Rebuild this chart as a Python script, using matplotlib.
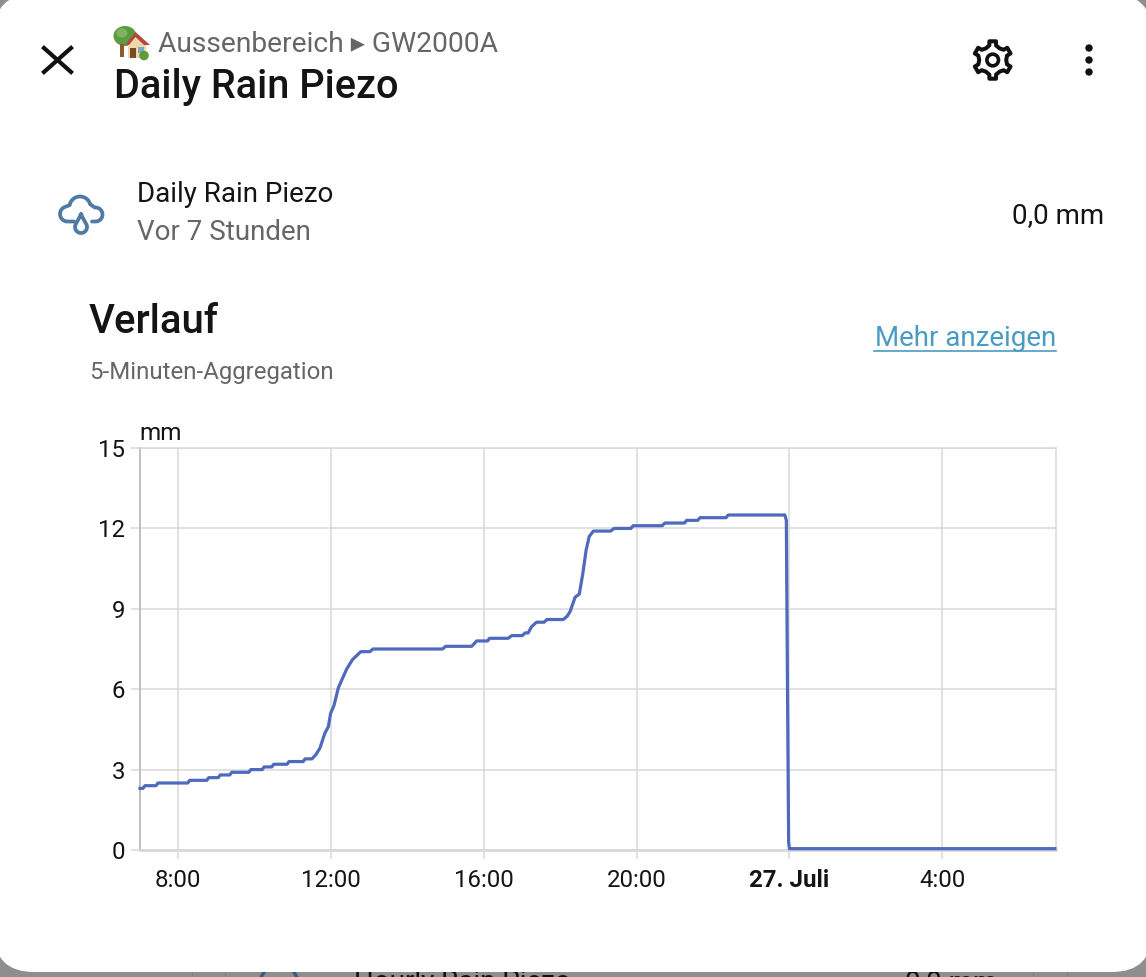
import matplotlib
matplotlib.use('Agg')
import matplotlib.pyplot as plt
import numpy as np
from matplotlib.patches import FancyBboxPatch, Circle, Ellipse, Polygon, Rectangle

plt.rcParams['font.family'] = ['Roboto', 'DejaVu Sans']

# hours since midnight of the first day
hours = [7.0, 7.08, 7.13, 7.42, 7.47, 8.25, 8.3, 8.75, 8.8, 9.05, 9.1, 9.35, 9.4, 9.85, 9.9,
         10.2, 10.25, 10.45, 10.5, 10.85, 10.9, 11.27, 11.32, 11.5, 11.6, 11.71, 11.84, 11.93,
         11.99, 12.08, 12.19, 12.3, 12.41, 12.56, 12.78, 13.02, 13.1, 14.92, 15.0, 15.68, 15.75,
         15.81, 16.1, 16.15, 16.64, 16.73, 17.01, 17.08, 17.16, 17.25, 17.38, 17.58, 17.65,
         18.08, 18.18, 18.26, 18.39, 18.5, 18.59, 18.68, 18.76, 18.87, 19.32, 19.41, 19.85,
         19.91, 20.67, 20.74, 21.25, 21.31, 21.6, 21.66, 22.34, 22.4, 23.88, 23.92, 23.95, 23.98, 24.0, 30.95]
rain_mm = [2.3, 2.3, 2.4, 2.4, 2.5, 2.5, 2.6, 2.6, 2.7, 2.7, 2.8, 2.8, 2.9, 2.9, 3.0,
           3.0, 3.1, 3.1, 3.2, 3.2, 3.3, 3.3, 3.4, 3.4, 3.55, 3.8, 4.36, 4.6,
           5.1, 5.4, 6.04, 6.4, 6.75, 7.1, 7.4, 7.4, 7.5, 7.5, 7.6, 7.6, 7.7,
           7.8, 7.8, 7.9, 7.9, 8.0, 8.0, 8.1, 8.1, 8.33, 8.5, 8.5, 8.6,
           8.6, 8.72, 8.9, 9.43, 9.55, 10.3, 11.2, 11.7, 11.9, 11.9, 12.0, 12.0,
           12.1, 12.1, 12.2, 12.2, 12.3, 12.3, 12.4, 12.4, 12.5, 12.5, 12.3, 6.0, 0.3, 0.05, 0.05]

x_ticks = [8, 12, 16, 20, 24, 28]
x_labels = ['8:00', '12:00', '16:00', '20:00', '27. Juli', '4:00']
y_ticks = [0, 3, 6, 9, 12, 15]

W, H = 1146, 977
fig = plt.figure(figsize=(W / 100, H / 100), dpi=100, facecolor='#8e8e8e')

# pixel canvas for the dialog around the chart
bg = fig.add_axes([0, 0, 1, 1], zorder=0)
bg.set_xlim(0, W)
bg.set_ylim(H, 0)
bg.axis('off')

# list behind the dialog, mostly hidden
for lx in [192, 225, 1033, 1067]:
    bg.plot([lx, lx], [960, 977], color='#808080', lw=0.8, zorder=1)
bg.add_patch(Circle((279, 984), 19, fc='none', ec='#3d5a7a', lw=2.5, zorder=1))
bg.text(354, 983, 'Hourly Rain Piezo', fontsize=20, color='#111111', va='center', zorder=1)
bg.text(905, 983, '0,0 mm', fontsize=20, color='#111111', va='center', zorder=1)
bg.add_patch(Circle((1128, 962), 7, fc='#8c2a2a', ec='none', zorder=1))

card = FancyBboxPatch((-6 + 40, -6 + 40), W + 12 - 80, 978 - 80, boxstyle='round,pad=40',
                      fc='white', ec='none', zorder=2)
bg.add_patch(card)

# close button
ic = '#111111'
bg.plot([44, 71], [48, 72], color=ic, lw=3.0, zorder=3)
bg.plot([44, 71], [72, 48], color=ic, lw=3.0, zorder=3)

# house emoji
bg.add_patch(Ellipse((125, 36), 23, 20, fc='#5d9b3f', ec='none', zorder=3))
bg.add_patch(Ellipse((122, 33), 11, 9, fc='#7db45c', ec='none', zorder=3))
bg.add_patch(Rectangle((120, 44), 4, 13, fc='#8a5a33', ec='none', zorder=3))
bg.add_patch(Rectangle((128, 43), 18, 15, fc='#f0d9a8', ec='none', zorder=4))
bg.add_patch(Polygon([(135.5, 32), (125, 45), (150, 45)], fc='#b5483a', ec='none', zorder=4))
bg.add_patch(Polygon([(135.5, 37), (129, 45), (144, 45)], fc='#f0d9a8', ec='none', zorder=4))
bg.add_patch(Rectangle((130, 48), 5.5, 10, fc='#7a4a2a', ec='none', zorder=5))
bg.add_patch(Rectangle((138, 47), 6, 5.5, fc='#7fa9c9', ec='none', zorder=5))
bg.add_patch(Circle((144, 55.5), 4.8, fc='#5d9b3f', ec='none', zorder=5))

# header text
bg.text(157.5, 44.5, 'Aussenbereich ▸ GW2000A', fontsize=20.3, color='#666666', va='center', zorder=3)
bg.text(113.5, 87, 'Daily Rain Piezo', fontsize=28.6, fontweight='medium', color='#141414', va='center', zorder=3)


# gear icon
def gear_outline(cx, cy):
    pts = []
    for k in range(6):
        a = np.radians(90 + k * 60)
        for off, r in [(-30, 13.5), (-13, 15), (-10, 19), (10, 19), (13, 15)]:
            b = a + np.radians(off)
            pts.append((cx + r * np.cos(b), cy - r * np.sin(b)))
    return pts


bg.add_patch(Polygon(gear_outline(992.7, 60), closed=True, fc='white', ec=ic, lw=2.9, zorder=3, joinstyle='round'))
bg.add_patch(Circle((992.7, 60), 5.8, fc='white', ec=ic, lw=2.6, zorder=4))
for dot_y in [48, 60, 72]:
    bg.add_patch(Circle((1089, dot_y), 3.7, fc=ic, ec='none', zorder=3))


# rain cloud icon
def arc(cx, cy, r, a0, a1):
    a = np.radians(np.linspace(a0, a1, 30))
    return np.column_stack([cx + r * np.cos(a), cy - r * np.sin(a)])


cloud_col = '#4f7aa6'
cloud = np.vstack([[[74, 221.5]], arc(67.5, 214, 7.5, 270, 110), arc(80, 207, 10.5, 170, 15),
                   arc(95.5, 214.5, 7, 95, -90), [[92, 221.5]]])
bg.plot(cloud[:, 0], cloud[:, 1], color=cloud_col, lw=2.7, solid_capstyle='round', zorder=3)
drop = np.vstack([[[81, 214.5]], arc(81, 227, 6, 25, -205), [[81, 214.5]]])
bg.plot(drop[:, 0], drop[:, 1], color=cloud_col, lw=2.7, zorder=3)

# entity row
bg.text(137, 194.5, 'Daily Rain Piezo', fontsize=20, color='#141414', va='center', zorder=3)
bg.text(137, 232.5, 'Vor 7 Stunden', fontsize=20, color='#666666', va='center', zorder=3)
bg.text(1104, 216, '0,0 mm', fontsize=20, color='#141414', va='center', ha='right', zorder=3)

# section header
bg.text(89, 322, 'Verlauf', fontsize=28.9, fontweight='medium', color='#141414', va='center', zorder=3)
bg.text(89, 373, '5-Minuten-Aggregation', fontsize=17.3, color='#666666', va='center', zorder=3)
bg.text(1056, 339, 'Mehr anzeigen', fontsize=20, color='#4a9bc4', va='center', ha='right', zorder=3)
bg.plot([874, 1056], [351, 351], color='#4a9bc4', lw=1.2, zorder=3)
bg.text(139, 433, 'mm', fontsize=17.5, color='#141414', va='center', zorder=3)

# chart
left, right, top, bottom = 140, 1056, 448, 850
ax = fig.add_axes([left / W, 1 - bottom / H, (right - left) / W, (bottom - top) / H], zorder=1)
ax.patch.set_alpha(0)
ax.set_xlim(7, 7 + (right - left) / 38.2)
ax.set_ylim(0, 15)

grid_col = '#d8d8d8'
ax.set_xticks(x_ticks)
ax.set_xticklabels(x_labels)
ax.set_yticks(y_ticks)
ax.grid(True, color=grid_col, lw=1.1)
ax.set_axisbelow(True)
ax.tick_params(axis='both', color=grid_col, width=1.1, length=6.5, labelsize=17.3, labelcolor='#141414', pad=4)
ax.tick_params(axis='x', pad=7)
ax.get_xticklabels()[4].set_fontweight('bold')
for name, spine in ax.spines.items():
    spine.set_color(grid_col)
    spine.set_linewidth(1.1)
ax.spines['left'].set_color('#bfbfbf')
ax.spines['left'].set_linewidth(1.4)
ax.spines['bottom'].set_linewidth(2.0)

ax.plot(hours, rain_mm, color='#4f69bd', lw=2.3, solid_joinstyle='round', clip_on=False, zorder=3)

fig.savefig('out.png', dpi=100, facecolor=fig.get_facecolor())
